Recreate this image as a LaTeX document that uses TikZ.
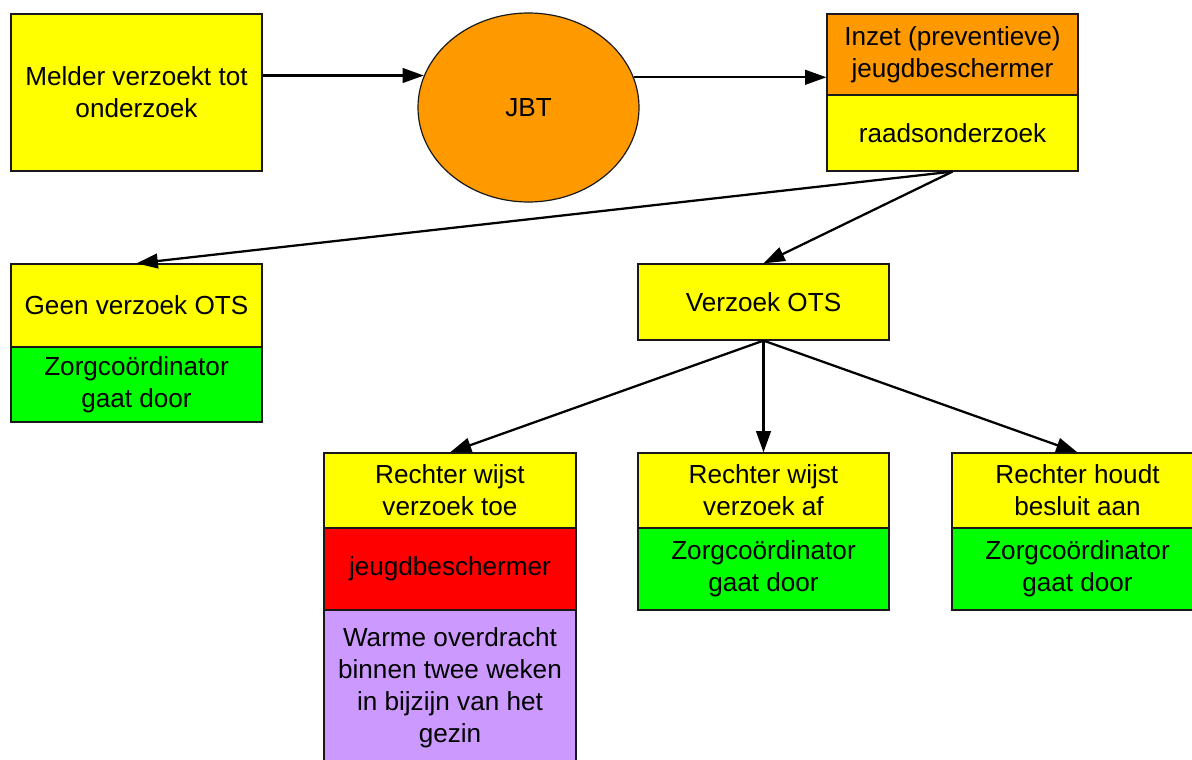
\documentclass[tikz,border=0pt]{standalone}
\usepackage{fontspec}
\setmainfont{Liberation Sans}
\usetikzlibrary{arrows.meta,shapes.geometric}
\definecolor{cyel}{HTML}{FFFF00}
\definecolor{corg}{HTML}{FF9900}
\definecolor{cgrn}{HTML}{00FF00}
\definecolor{cred}{HTML}{FF0000}
\definecolor{cpur}{HTML}{CC99FF}
\begin{document}
\begin{tikzpicture}[x=0.75pt,y=-0.75pt,
  bx/.style={draw=black!90,line width=0.9pt,inner sep=0pt,align=center,
    font=\fontsize{19.6}{24}\selectfont,minimum width=188.25pt},
  arr/.style={line width=1.7pt,-{Triangle[length=16pt,width=11pt]}}]
\clip (0,0) rectangle (1192,760);
\fill[white] (0,0) rectangle (1192,760);
% top row
\node[bx,fill=cyel,minimum height=117.75pt] (melder) at (136.5,92.5) {Melder verzoekt tot\\onderzoek};
\node[bx,ellipse,fill=corg,minimum width=165.75pt,minimum height=141.75pt] (jbt) at (528.5,107.5) {JBT};
\node[bx,fill=corg,minimum height=60.75pt] (inzet1) at (952.5,54.5) {Inzet (preventieve)\\jeugdbeschermer};
\node[bx,fill=cyel,minimum height=57pt] (inzet2) at (952.5,133) {raadsonderzoek};
% second row
\node[bx,fill=cyel,minimum height=62.25pt] (geen1) at (136.5,305.5) {Geen verzoek OTS};
\node[bx,fill=cgrn,minimum height=56.25pt] (geen2) at (136.5,384.5) {Zorgco\"ordinator\\gaat door};
\node[bx,fill=cyel,minimum height=57pt] (ots) at (763.5,302) {Verzoek OTS};
% third row
\node[bx,fill=cyel,minimum width=189pt,minimum height=56.25pt] (toe1) at (450,490.5) {Rechter wijst\\verzoek toe};
\node[bx,fill=cred,minimum width=189pt,minimum height=61.5pt] (toe2) at (450,569) {jeugdbeschermer};
\node[bx,fill=cpur,minimum width=189pt,minimum height=117pt] (toe3) at (450,688) {Warme overdracht\\binnen twee weken\\in bijzijn van het\\gezin};
\node[bx,fill=cyel,minimum height=56.25pt] (af1) at (763.5,490.5) {Rechter wijst\\verzoek af};
\node[bx,fill=cgrn,minimum height=61.5pt] (af2) at (763.5,569) {Zorgco\"ordinator\\gaat door};
\node[bx,fill=cyel,minimum height=56.25pt] (houdt1) at (1077.5,490.5) {Rechter houdt\\besluit aan};
\node[bx,fill=cgrn,minimum height=61.5pt] (houdt2) at (1077.5,569) {Zorgco\"ordinator\\gaat door};
% connectors
\draw[arr] (melder.east |- jbt.163.7) -- (jbt.163.7);
\draw[arr] (jbt.16.3) -- (inzet1.west |- jbt.16.3);
\draw[arr] (inzet2.south) -- (geen1.north);
\draw[arr] (inzet2.south) -- (ots.north);
\draw[arr] (ots.south) -- (toe1.north);
\draw[arr] (ots.south) -- (af1.north);
\draw[arr] (ots.south) -- (houdt1.north);
\end{tikzpicture}
\end{document}
